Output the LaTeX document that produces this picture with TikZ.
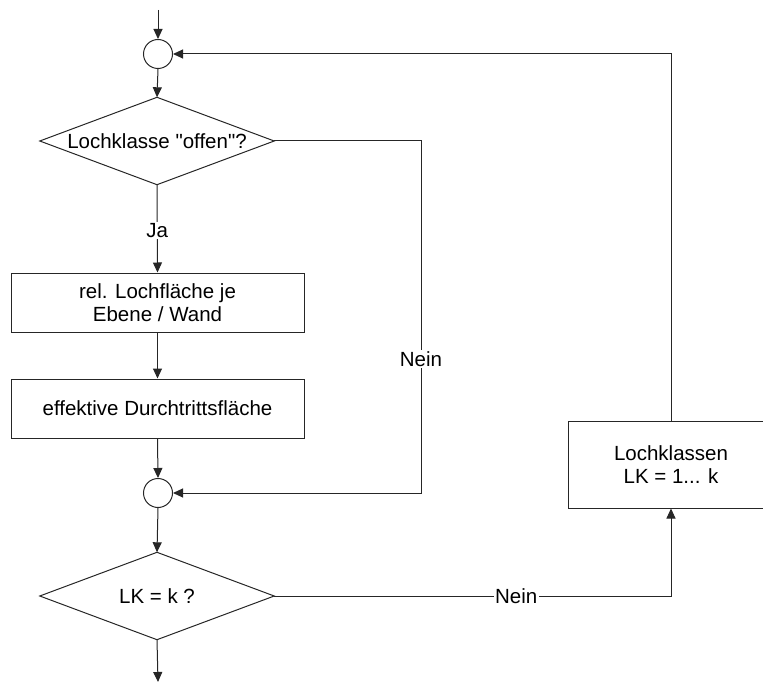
\documentclass[tikz,border=0pt]{standalone}
\usepackage{fontspec}
\setmainfont{Liberation Sans}[Ligatures=TeXOff]
\usetikzlibrary{arrows.meta}
\begin{document}
\begin{tikzpicture}[x=1pt,y=-1pt,
  every node/.style={font=\fontsize{20.5}{23}\selectfont, align=center, inner sep=0pt},
  ln/.style={line width=1pt, draw=black!85},
  arr/.style={ln, -{Triangle[length=10pt,width=9pt]}},
  boxnode/.style={draw=black!85, line width=1pt, minimum width=293pt, minimum height=59pt},
  junction/.style={draw=black!85, line width=1pt, circle, minimum size=29pt},
  decision/.style={minimum width=234pt, minimum height=87pt},
  lbl/.style={fill=white, inner sep=1.5pt}]
\useasboundingbox (0,0) rectangle (763,682);
\clip (0,0) rectangle (763,682);
\coordinate (start) at (158,10);
\coordinate (stop) at (158,682);
\node[junction] (c1) at (158,54) {};
\node[decision] (d1) at (157,141) {Lochklasse "offen"?};
\draw[ln] (d1.north) -- (d1.east) -- (d1.south) -- (d1.west) -- cycle;
\node[boxnode] (b1) at (157.5,302.5) {rel. Lochfläche je\\Ebene / Wand};
\node[boxnode] (b2) at (157.5,408.5) {effektive Durchtrittsfläche};
\node[junction] (c2) at (158,493) {};
\node[decision] (d2) at (157,596) {LK = k ?};
\draw[ln] (d2.north) -- (d2.east) -- (d2.south) -- (d2.west) -- cycle;
\node[draw=black!85, line width=1pt, minimum width=206pt, minimum height=87pt] (b3) at (671,464.5) {Lochklassen\\LK = 1... k};
\coordinate (r1) at (421,141);
\coordinate (r2) at (421,493);
\coordinate (t1) at (671,54);
\coordinate (t2) at (671,596);

\draw[arr] (start) -- (c1.north);
\draw[arr] (c1.south) -- (d1.north);
\draw[arr] (d1.south) -- node[lbl, pos=0.52] (ja) {Ja} (b1.north);
\draw[arr] (b1.south) -- (b2.north);
\draw[arr] (b2.south) -- (c2.north);
\draw[arr] (c2.south) -- (d2.north);
\draw[arr] (d2.south) -- (stop);
\draw[arr] (d1.east) -- (r1) -- node[lbl, pos=0.62] (nein1) {Nein} (r2) -- (c2.east);
\draw[arr] (d2.east) -- node[lbl, pos=0.61] (nein2) {Nein} (t2) -- (b3.south);
\draw[arr] (b3.north) -- (t1) -- (c1.east);
\end{tikzpicture}
\end{document}
